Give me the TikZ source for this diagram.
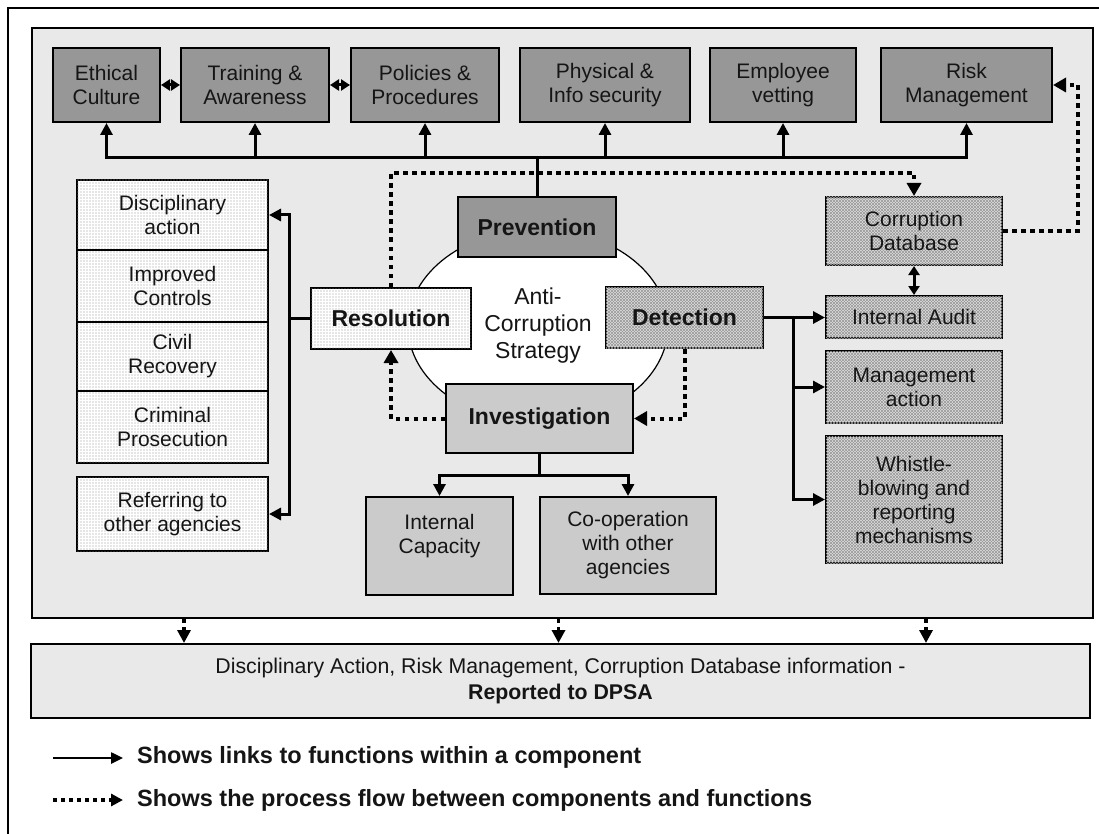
\documentclass[tikz,border=0pt]{standalone}
\usepackage{fontspec}
\setmainfont{Liberation Sans}
\usetikzlibrary{arrows.meta,patterns,shapes.geometric}
\pgfdeclarepatternformonly{finedots}{\pgfqpoint{-1pt}{-1pt}}{\pgfqpoint{1pt}{1pt}}{\pgfqpoint{3pt}{3pt}}{%
  \pgfpathcircle{\pgfqpoint{0pt}{0pt}}{0.6pt}\pgfusepath{fill}}
\pgfdeclarepatternformonly{xhatch}{\pgfqpoint{-0.2pt}{-0.2pt}}{\pgfqpoint{3.2pt}{3.2pt}}{\pgfqpoint{3pt}{3pt}}{%
  \pgfsetlinewidth{0.45pt}%
  \pgfpathmoveto{\pgfqpoint{-0.2pt}{-0.2pt}}\pgfpathlineto{\pgfqpoint{3.2pt}{3.2pt}}%
  \pgfpathmoveto{\pgfqpoint{-0.2pt}{3.2pt}}\pgfpathlineto{\pgfqpoint{3.2pt}{-0.2pt}}%
  \pgfusepath{stroke}}
\definecolor{panelgray}{HTML}{E9E9E9}
\definecolor{darkbox}{HTML}{979797}
\definecolor{midbox}{HTML}{CBCBCB}
\definecolor{hatchbg}{HTML}{E4E4E4}
\definecolor{inkc}{HTML}{151515}
\begin{document}
\begin{tikzpicture}[x=1pt,y=-1pt,
  sz/.style 2 args={minimum width=#1pt,minimum height=#2pt},
  box/.style={draw, line width=2pt, inner sep=0pt, align=center, text=inkc, font=\fontsize{21}{24}\selectfont},
  dark/.style={box, fill=darkbox},
  mid/.style={box, fill=midbox},
  dotbox/.style={box, fill=white, postaction={pattern=finedots, pattern color=gray!85}},
  hatchbox/.style={box, fill=hatchbg, postaction={pattern=xhatch, pattern color=gray!80}},
  lbl/.style={font=\fontsize{23}{27}\selectfont\bfseries},
  conn/.style={line width=3pt},
  arr/.style={line width=3pt, -{Triangle[length=12pt,width=12pt]}},
  bi/.style={line width=3pt, {Triangle[length=9pt,width=11pt]}-{Triangle[length=9pt,width=11pt]}},
  flow/.style={line width=4pt, dash pattern=on 4.5pt off 4.5pt, -{Triangle[length=13pt,width=14pt]}},
]
\useasboundingbox (0,0) rectangle (1099,834);
\fill[white] (0,0) rectangle (1099,834);
% outer frame
\draw[line width=2pt] (8,834) -- (8,8) -- (1099,8);
% panel
\node[draw, line width=2.5pt, fill=panelgray, inner sep=0pt, sz={1061}{590}] (panel) at (562.5,323) {};
% central ellipse
\node[ellipse, draw, line width=1.2pt, fill=white, inner sep=0pt, sz={260}{194}, align=center,
      text=inkc, font=\fontsize{23}{27}\selectfont] (strat) at (538,326) {Anti-\\Corruption\\Strategy};

% top row
\node[dark, sz={107}{74}] (eth)  at (106.5,85) {Ethical\\Culture};
\node[dark, sz={148}{74}] (trn)  at (255,85)   {Training \&\\Awareness};
\node[dark, sz={148}{74}] (pol)  at (425,85)   {Policies \&\\Procedures};
\node[dark, sz={170}{74}] (phy)  at (605,85)   {Physical \&\\Info security};
\node[dark, sz={146}{74}] (emp)  at (783,85)   {Employee\\vetting};
\node[dark, sz={171}{74}] (risk) at (966.5,85) {Risk\\Management};

% components
\node[dark, lbl, sz={158}{60}]    (prev) at (537,227)     {Prevention};
\node[dotbox, lbl, sz={160}{61}]  (res)  at (391,318.5)   {Resolution};
\node[hatchbox, lbl, sz={157}{61}] (det) at (684.5,317.5) {Detection};
\node[mid, lbl, sz={187}{69}]     (inv)  at (539.5,418.5) {Investigation};

% investigation functions
\node[mid, sz={147}{98}] (ic)   at (439.5,546) {Internal\\Capacity\\~};
\node[mid, sz={176}{97}] (coop) at (628,545.5) {Co-operation\\with other\\agencies};

% resolution functions
\node[dotbox, sz={191}{70}] (disc) at (172.5,215)   {Disciplinary\\action};
\node[dotbox, sz={191}{72}] (imp)  at (172.5,286)   {Improved\\Controls};
\node[dotbox, sz={191}{69}] (civ)  at (172.5,356.5) {Civil\\Recovery};
\node[dotbox, sz={191}{72}] (crim) at (172.5,427)   {Criminal\\Prosecution};
\node[dotbox, sz={191}{74}] (ref)  at (172.5,514)   {Referring to\\other agencies};

% detection functions
\node[hatchbox, sz={176}{68}]  (cdb) at (914,231)   {Corruption\\Database};
\node[hatchbox, sz={176}{42}]  (ia)  at (914,317)   {Internal Audit};
\node[hatchbox, sz={176}{72}]  (ma)  at (914,387)   {Management\\action};
\node[hatchbox, sz={176}{127}] (wb)  at (914,499.5) {Whistle-\\blowing and\\reporting\\mechanisms};

% bottom report box
\node[box, fill=panelgray, sz={1059}{74}, font=\fontsize{21.3}{26}\selectfont] (bot) at (560.5,681)
  {Disciplinary Action, Risk Management, Corruption Database information -\\\textbf{Reported to DPSA}};

% ---- solid links: prevention
\coordinate (busy) at (0,158);
\draw[conn] (prev.north) -- (prev.north |- busy);
\draw[arr] (prev.north |- busy) -| (eth.south);
\draw[arr] (prev.north |- busy) -| (risk.south);
\foreach \n in {trn,pol,phy,emp} \draw[arr] (\n.south |- busy) -- (\n.south);
\draw[bi] (eth.east) -- (trn.west);
\draw[bi] (trn.east) -- (pol.west);

% ---- solid links: resolution
\coordinate (lbx) at (289,0);
\draw[conn] (res.west) -- (res.west -| lbx);
\draw[arr] (res.west -| lbx) |- (disc.east);
\draw[arr] (res.west -| lbx) |- (ref.east);

% ---- solid links: investigation
\coordinate (iby) at (0,475);
\draw[conn] (inv.south) -- (inv.south |- iby);
\draw[arr] (inv.south |- iby) -| (ic.north);
\draw[arr] (inv.south |- iby) -| (coop.north);

% ---- solid links: detection
\coordinate (rbx) at (793,0);
\draw[arr] (det.east) -- (det.east -| ia.west);
\draw[arr] (det.east -| rbx) |- (ma.west);
\draw[arr] (det.east -| rbx) |- (wb.west);
\draw[bi] (cdb.south) -- (ia.north);

% ---- process flow (dotted)
\coordinate (dty) at (0,173);
\draw[flow] (res.north) |- (cdb.north |- dty) -- (cdb.north);
\draw[flow] (inv.west) -| (res.south);
\draw[flow] (det.south) |- (inv.east);
\coordinate (rrx) at (1078,0);
\draw[flow] (cdb.east) -| (rrx |- risk.east) -- (risk.east);

\foreach \x [count=\i] in {184,558.5,926} {
  \coordinate (dd\i) at (\x,0);
  \draw[flow, line width=3.5pt, dash pattern=on 4pt off 4pt, -{Triangle[length=13pt,width=13pt]}] (panel.south -| dd\i) -- (bot.north -| dd\i);
}

% ---- legend
\coordinate (la1) at (53,758);
\coordinate (lb1) at (123,758);
\coordinate (la2) at (53,800);
\coordinate (lb2) at (123,800);
\draw[line width=2.5pt, -{Triangle[length=12pt,width=11pt]}] (la1) -- (lb1);
\draw[line width=4pt, dash pattern=on 4pt off 4pt, -{Triangle[length=12pt,width=12pt]}] (la2) -- (lb2);
\node[anchor=west, inner sep=0pt, text=inkc, font=\fontsize{23.5}{27}\selectfont\bfseries] (leg1) at (137,757)
  {Shows links to functions within a component};
\node[anchor=west, inner sep=0pt, text=inkc, font=\fontsize{23.5}{27}\selectfont\bfseries] (leg2) at (137,800)
  {Shows the process flow between components and functions};
\end{tikzpicture}
\end{document}
